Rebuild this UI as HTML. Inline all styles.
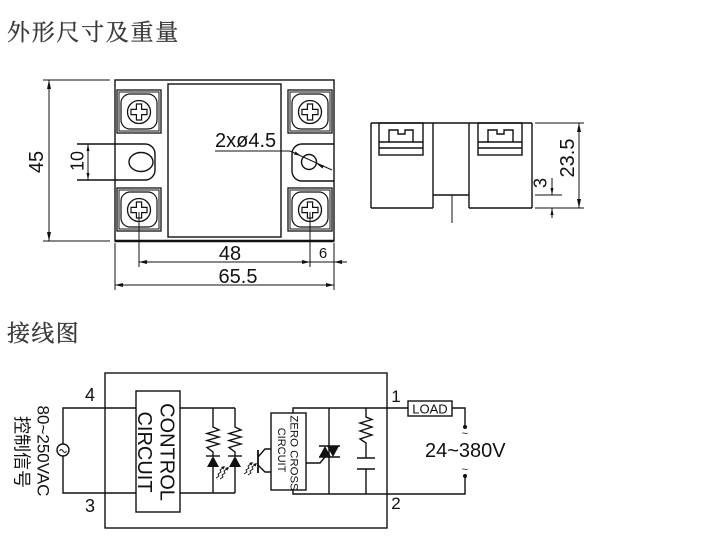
<!DOCTYPE html>
<html><head><meta charset="utf-8"><style>
html,body{margin:0;padding:0;background:#fff;}
svg{display:block;}
.t{font-family:"Liberation Sans",Arial,sans-serif;fill:#111;}
.cj{font-family:"Liberation Serif","Noto Serif CJK SC",serif;fill:#3a3a3a;stroke:#3a3a3a;stroke-width:0.35;}
</style></head><body>
<svg width="715" height="548" viewBox="0 0 715 548" xmlns="http://www.w3.org/2000/svg">
<defs>
<path id="plus" d="M-2.6,-8 h5.2 v5.4 h5.4 v5.2 h-5.4 v5.4 h-5.2 v-5.4 h-5.4 v-5.2 h5.4 z" fill="#fff" stroke="#111" stroke-width="1.2"/>
<g id="term">
<rect x="-22" y="-22" width="44" height="43" fill="none" stroke="#111" stroke-width="1.3"/>
<rect x="-20" y="-20" width="40" height="39" fill="none" stroke="#111" stroke-width="1"/>
<rect x="-18" y="-18" width="36" height="35" rx="9" fill="none" stroke="#111" stroke-width="1.2"/>
<circle cx="0" cy="0" r="11.5" fill="none" stroke="#111" stroke-width="1.3"/>
<use href="#plus"/>
</g>
</defs>

<!-- Titles -->
<text class="cj" x="7" y="40" font-size="23" letter-spacing="1.7">外形尺寸及重量</text>
<text class="cj" x="7" y="341" font-size="23" letter-spacing="1.3">接线图</text>

<!-- ===== Top view ===== -->
<g stroke="#111" fill="none" stroke-width="1.4">
<rect x="115" y="80" width="219" height="161"/>
<line x1="115" y1="241" x2="334" y2="241" stroke-width="2.4"/>
<rect x="168" y="84" width="113" height="153"/>
<path d="M77,144 H145 A10,10 0 0 1 155,154 V170 A10,10 0 0 1 145,180 H77"/>
<ellipse cx="141" cy="162" rx="12" ry="9.5"/>
<path d="M334,144 H302 A10,10 0 0 0 292,154 V171 A10,10 0 0 0 302,181 H334"/>
<circle cx="309" cy="162" r="7.5"/>
</g>
<use href="#term" x="139" y="112"/>
<use href="#term" x="310" y="112"/>
<use href="#term" x="139" y="210"/>
<use href="#term" x="310" y="210"/>

<g stroke="#111" stroke-width="1" fill="none">
<line x1="43" y1="80" x2="110" y2="80"/>
<line x1="43" y1="241" x2="110" y2="241"/>
<line x1="49" y1="80" x2="49" y2="241"/>
<line x1="88" y1="144" x2="88" y2="180"/>
<line x1="139" y1="212" x2="139" y2="267"/>
<line x1="310" y1="212" x2="310" y2="267"/>
<line x1="115" y1="243" x2="115" y2="290"/>
<line x1="334" y1="243" x2="334" y2="290"/>
<line x1="139" y1="262" x2="347" y2="262"/>
<line x1="115" y1="285" x2="334" y2="285"/>
<polyline points="215,151 290,151 332,170"/>
</g>
<g fill="#111">
<polygon points="49,80 47,89 51,89"/>
<polygon points="49,241 47,232 51,232"/>
<polygon points="88,144 86.5,151 89.5,151"/>
<polygon points="88,180 86.5,173 89.5,173"/>
<polygon points="139,262 147,260 147,264"/>
<polygon points="310,262 302,260 302,264"/>
<polygon points="334,262 342,260 342,264"/>
<polygon points="115,285 123,283 123,287"/>
<polygon points="334,285 326,283 326,287"/>
<polygon points="301,156 294,154.5 295.5,151.5"/>
<polygon points="317,164 324,165.5 322.5,168.5"/>
</g>
<text class="t" font-size="20" text-anchor="middle" transform="translate(36,162) rotate(-90)" dy="0.36em">45</text>
<text class="t" font-size="18" text-anchor="middle" transform="translate(77,161) rotate(-90)" dy="0.36em">10</text>
<text class="t" font-size="20" x="230" y="260" text-anchor="middle">48</text>
<text class="t" font-size="15" x="323" y="258" text-anchor="middle">6</text>
<text class="t" font-size="20" x="238" y="283" text-anchor="middle">65.5</text>
<text class="t" font-size="20" x="215" y="147">2xø4.5</text>

<!-- ===== Side view ===== -->
<g stroke="#111" fill="none" stroke-width="1.4">
<line x1="371" y1="123" x2="532" y2="123"/>
<line x1="371" y1="123" x2="371" y2="208"/>
<line x1="532" y1="123" x2="532" y2="208"/>
<line x1="433" y1="123" x2="433" y2="208"/>
<line x1="469" y1="123" x2="469" y2="208"/>
<line x1="371" y1="208" x2="433" y2="208"/>
<line x1="469" y1="208" x2="532" y2="208"/>
<line x1="433" y1="195" x2="469" y2="195"/>
<rect x="379" y="123" width="44" height="32"/>
<line x1="379" y1="142" x2="423" y2="142"/>
<line x1="379" y1="148" x2="423" y2="148"/>
<path d="M389,142 V130 H398 V134 H405 V130 H413 V142"/>
<rect x="478" y="123" width="44" height="32"/>
<line x1="478" y1="142" x2="522" y2="142"/>
<line x1="478" y1="148" x2="522" y2="148"/>
<path d="M488,142 V130 H497 V134 H504 V130 H513 V142"/>
</g>
<g stroke="#111" stroke-width="1" fill="none">
<line x1="452" y1="195" x2="452" y2="223"/>
<line x1="535" y1="123" x2="584" y2="123"/>
<line x1="535" y1="208" x2="584" y2="208"/>
<line x1="579" y1="123" x2="579" y2="208"/>
<line x1="535" y1="195" x2="562" y2="195"/>
<line x1="552" y1="178" x2="552" y2="195"/>
<line x1="552" y1="208" x2="552" y2="218"/>
</g>
<g fill="#111">
<polygon points="579,123 577,132 581,132"/>
<polygon points="579,208 577,199 581,199"/>
<polygon points="552,195 550.5,188 553.5,188"/>
<polygon points="552,208 550.5,215 553.5,215"/>
</g>
<text class="t" font-size="20" text-anchor="middle" transform="translate(567,158) rotate(-90)" dy="0.36em">23.5</text>
<text class="t" font-size="18" text-anchor="middle" transform="translate(540,183) rotate(-90)" dy="0.36em">3</text>

<!-- ===== Wiring diagram ===== -->
<g stroke="#111" fill="none" stroke-width="1.4">
<rect x="105" y="373" width="282" height="155"/>
<rect x="136" y="391" width="44" height="121"/>
<polyline points="136,408 63,408 63,444"/>
<polyline points="136,493 63,493 63,456"/>
<circle cx="63" cy="450" r="6"/>
<path d="M59.5,451 q1.7,-3 3.5,0 t3.5,0" stroke-width="1"/>
<polyline points="180,408 235,408"/>
<polyline points="180,493 235,493"/>
<polyline points="213,408 213,427 219,430 207,433.5 219,437 207,440.5 219,444 207,447.5 213,452 213,456"/>
<polyline points="235,408 235,427 241,430 229,433.5 241,437 229,440.5 241,444 229,447.5 235,452 235,456"/>
<line x1="206" y1="456" x2="220" y2="456"/>
<line x1="228" y1="456" x2="242" y2="456"/>
<line x1="213" y1="467" x2="213" y2="493"/>
<line x1="235" y1="467" x2="235" y2="493"/>
<line x1="258" y1="450" x2="258" y2="473" stroke-width="1.8"/>
<polyline points="258,457 265,449 271,449"/>
<polyline points="258,465 265,472 271,472"/>
<rect x="271" y="413" width="35" height="77"/>
<polyline points="293,413 293,408 408,408"/>
<polyline points="293,490 293,494 465,494 465,476"/>
<line x1="329" y1="408" x2="329" y2="494"/>
<line x1="319" y1="446" x2="340" y2="446"/>
<line x1="319" y1="457" x2="340" y2="457"/>
<polyline points="306,463 320,463 325,457"/>
<polyline points="366,408 366,417 372,419.5 360,423 372,427 360,431 372,435 360,439 366,443 366,458"/>
<line x1="357" y1="458" x2="375" y2="458"/>
<line x1="357" y1="469" x2="375" y2="469"/>
<line x1="366" y1="469" x2="366" y2="494"/>
<rect x="408" y="401" width="44" height="15"/>
<polyline points="452,408 465,408 465,426"/>
</g>
<g fill="#111">
<polygon points="213,456 207,467 219,467"/>
<polygon points="235,456 229,467 241,467"/>
<polygon points="319,457 331,457 325,446"/>
<polygon points="327,446 339,446 333,457"/>
<polygon points="266,472.5 260,467 262.5,470.5"/>
<circle cx="465" cy="427" r="2"/>
<circle cx="465" cy="476" r="2"/>
</g>
<g stroke="#111" stroke-width="0.9" fill="none">
<polyline points="216,478 219,476 218,474 221,472 220,470 224,467"/>
<polyline points="220,479 223,477 222,475 225,473 224,471 228,468"/>
<polyline points="244,474 247,472 246,470 249,468 248,466 252,463"/>
<polyline points="248,475 251,473 250,471 253,469 252,467 256,464"/>
</g>
<g fill="#111">
<polygon points="225,466 221,467 223.5,469.5"/>
<polygon points="229,467 225,468 227.5,470.5"/>
<polygon points="253,462 249,463 251.5,465.5"/>
<polygon points="257,463 253,464 255.5,466.5"/>
</g>
<text class="t" font-size="18" x="90" y="401" text-anchor="middle">4</text>
<text class="t" font-size="18" x="90" y="512" text-anchor="middle">3</text>
<text class="t" font-size="20" text-anchor="middle" transform="translate(167.5,452) rotate(90)" dy="0.36em">CONTROL</text>
<text class="t" font-size="20" text-anchor="middle" transform="translate(145,452) rotate(90)" dy="0.36em">CIRCUIT</text>
<text class="t" font-size="17" text-anchor="middle" transform="translate(43.5,451) rotate(90)" dy="0.36em">80~250VAC</text>
<text class="t" font-size="18" text-anchor="middle" transform="translate(22,452) rotate(90)" dy="0.36em" style="font-family:'Liberation Sans','Noto Sans CJK SC',sans-serif">控制信号</text>
<text class="t" font-size="11.4" text-anchor="middle" transform="translate(294.5,453) rotate(90)" dy="0.36em">ZERO CROSS</text>
<text class="t" font-size="11" text-anchor="middle" transform="translate(282,450) rotate(90)" dy="0.36em">CIRCUIT</text>
<text class="t" font-size="17" x="396" y="402" text-anchor="middle">1</text>
<text class="t" font-size="17" x="396" y="509" text-anchor="middle">2</text>
<text class="t" font-size="13" x="430" y="413.5" text-anchor="middle">LOAD</text>
<text class="t" font-size="11" x="465" y="437" text-anchor="middle">~</text>
<text class="t" font-size="11" x="465" y="473" text-anchor="middle">~</text>
<text class="t" font-size="20" x="425" y="457">24~380V</text>
</svg>
</body></html>
